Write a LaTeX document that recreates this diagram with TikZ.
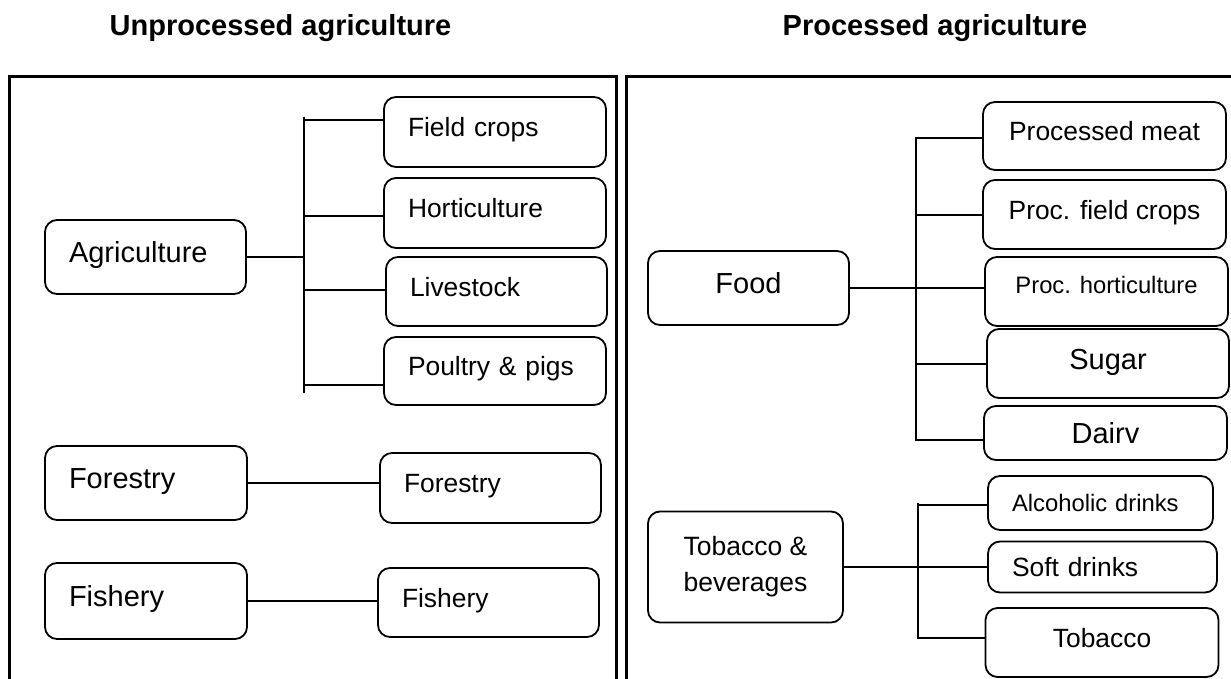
\documentclass[tikz,border=0pt]{standalone}
\usepackage{fontspec}
\setmainfont{Liberation Sans}
\usepackage{tikz}

\begin{document}
\begin{tikzpicture}[x=1pt,y=-1pt,
	sumbox/.style={draw, line width=1.8pt, rounded corners=12pt, inner sep=0pt, align=center},
	bigtext/.style={font=\fontsize{29}{34}\selectfont, text height=20.8pt, text depth=9pt},
	midtext/.style={font=\fontsize{26.4}{31}\selectfont, text height=18.9pt, text depth=9pt},
	smalltext/.style={font=\fontsize{23.8}{28}\selectfont, text height=17pt, text depth=9pt},
	lefttext/.style={align=left, inner xsep=24pt, text width=#1},
	heading/.style={font=\bfseries\fontsize{29}{34}\selectfont, text height=20.8pt, text depth=0pt, inner sep=0pt},
	wire/.style={line width=1.7pt},
	panel/.style={line width=3pt}]
				\useasboundingbox (0,0) rectangle (1231,679);
				\draw[panel] (9,700) -- (9,77) -- (616,77) -- (616,700);
				\draw[panel] (626,700) -- (626,77) -- (1250,77);
				\node[heading] (leftTitle) at (280.5,25) {Unprocessed agriculture};
				\node[heading] (rightTitle) at (935,25) {Processed agriculture};
				\node[sumbox, bigtext, lefttext=153pt, minimum height=74pt] (agri) at (145.5,257) {Agriculture};
				\node[sumbox, midtext, lefttext=174pt, minimum height=70pt] (fieldcrops) at (495,132) {Field crops};
				\node[sumbox, midtext, lefttext=174pt, minimum height=70pt] (horti) at (495,213) {Horticulture};
				\node[sumbox, midtext, lefttext=173pt, minimum height=69pt] (livestock) at (496.5,291.5) {Livestock};
				\node[sumbox, midtext, lefttext=174pt, minimum height=68pt] (poultry) at (495,371) {Poultry \& pigs};
				\node[sumbox, bigtext, lefttext=154pt, minimum height=74pt] (forestA) at (146,483) {Forestry};
				\node[sumbox, midtext, lefttext=173pt, minimum height=70pt] (forestB) at (490.5,488) {Forestry};
				\node[sumbox, bigtext, lefttext=154pt, minimum height=76pt] (fishA) at (146,601) {Fishery};
				\node[sumbox, midtext, lefttext=173pt, minimum height=69pt] (fishB) at (488.5,602.5) {Fishery};
				\node[sumbox, bigtext, minimum width=201pt, minimum height=74pt] (food) at (748.5,288) {Food};
				\node[sumbox, midtext, minimum width=243pt, minimum height=68pt] (meat) at (1104.5,136) {Processed meat};
				\node[sumbox, midtext, minimum width=243pt, minimum height=69pt] (pfield) at (1104.5,214.5) {Proc. field crops};
				\node[sumbox, smalltext, minimum width=243pt, minimum height=69pt, text depth=13pt] (phort) at (1106.5,291.5) {Proc. horticulture};
				\node[sumbox, bigtext, minimum width=242pt, minimum height=69pt] (sugar) at (1108,363.5) {Sugar};
				\node[sumbox, bigtext, minimum width=243pt, minimum height=54pt, text depth=0pt] (dairy) at (1105.5,433) {Dairv};
				\node[sumbox, font=\fontsize{26.5}{36}\selectfont, minimum width=195pt, minimum height=111pt] (tobbev) at (745.5,567) {Tobacco \&\\beverages};
				\node[sumbox, smalltext, lefttext=177pt, minimum height=54pt, text depth=0pt] (alco) at (1100.5,503) {Alcoholic drinks};
				\node[sumbox, midtext, lefttext=181pt, minimum height=51pt, text depth=0pt] (soft) at (1102.5,567) {Soft drinks};
				\node[sumbox, midtext, minimum width=233pt, minimum height=69pt] (tobacco) at (1102,642.5) {Tobacco};
				\coordinate (aTop) at (304,117);
				\coordinate (aBot) at (304,393);
				\coordinate (a1) at (304,120);
				\coordinate (a2) at (304,216);
				\coordinate (a3) at (304,290);
				\coordinate (a4) at (304,385);
				\draw[wire] (aTop) -- (aBot);
				\draw[wire] (agri.east) -- (agri.east -| aTop);
				\draw[wire] (a1) -- (a1 -| fieldcrops.west);
				\draw[wire] (a2) -- (a2 -| horti.west);
				\draw[wire] (a3) -- (a3 -| livestock.west);
				\draw[wire] (a4) -- (a4 -| poultry.west);
				\draw[wire] (forestA.east) -- (forestA.east -| forestB.west);
				\draw[wire] (fishA.east) -- (fishA.east -| fishB.west);
				\coordinate (bTop) at (916,138);
				\coordinate (bBot) at (916,440);
				\coordinate (b2) at (916,215);
				\coordinate (b4) at (916,364);
				\draw[wire] (bTop -| meat.west) -- (bTop) -- (bBot) -- (bBot -| dairy.west);
				\draw[wire] (b2) -- (b2 -| pfield.west);
				\draw[wire] (food.east) -- (food.east -| phort.west);
				\draw[wire] (b4) -- (b4 -| sugar.west);
				\coordinate (cTop) at (918,503);
				\coordinate (cBot) at (918,638);
				\coordinate (c1) at (918,505);
				\draw[wire] (cTop) -- (cBot) -- (cBot -| tobacco.west);
				\draw[wire] (c1) -- (c1 -| alco.west);
				\draw[wire] (tobbev.east) -- (tobbev.east -| soft.west);
\end{tikzpicture}
\end{document}
